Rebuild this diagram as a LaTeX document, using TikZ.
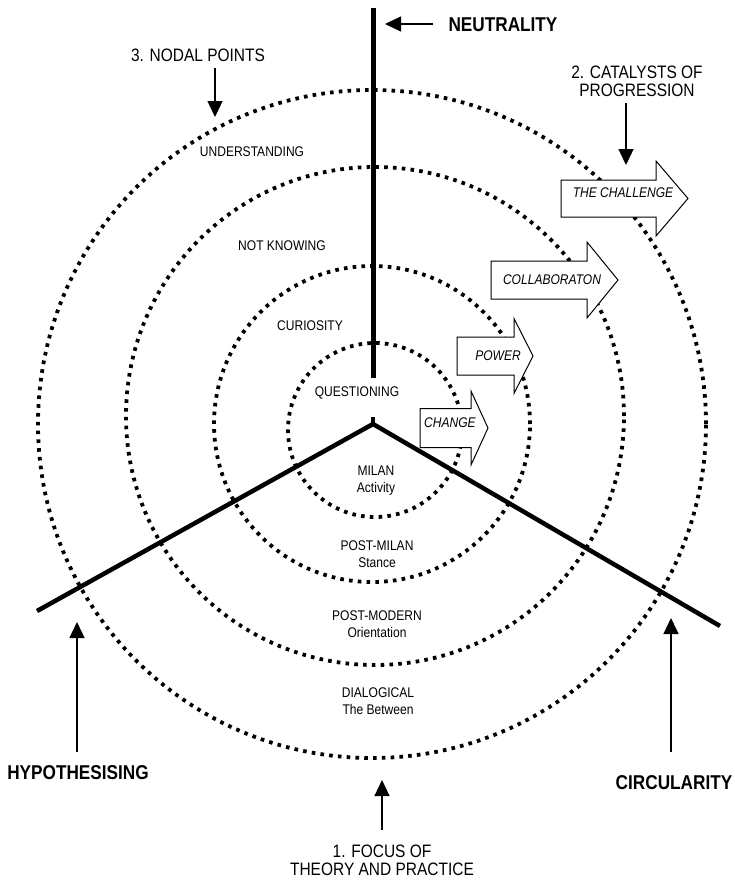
\documentclass[tikz,border=0pt]{standalone}
\usepackage{fontspec}
\setmainfont{Liberation Sans}[FakeStretch=0.86]
\usetikzlibrary{arrows.meta}
\tikzset{
    ring/.style={line width=3.8bp, dash pattern=on 3.6bp off 5.2bp},
    bar/.style={line width=5bp},
    pointer/.style={line width=1.3bp, -{Triangle[length=16bp,width=15bp]}},
    block/.style={line width=1bp, fill=white, line join=miter},
    ringtext/.style={font=\fontsize{14bp}{17bp}\selectfont, align=center, inner sep=0pt},
    blocktext/.style={font=\fontsize{14bp}{17bp}\selectfont\itshape, inner sep=0pt},
    headtext/.style={font=\fontsize{18bp}{18bp}\selectfont, align=center, inner sep=0pt},
    keytext/.style={font=\fontsize{20bp}{22bp}\selectfont\bfseries, inner sep=0pt},
}
% block arrow: left, shaft end, tip, middle, half shaft, half head
\newcommand{\blockarrow}[6]{%
    \draw[block] (#1,#4-#5) -- (#2,#4-#5) -- (#2,#4-#6) -- (#3,#4)
        -- (#2,#4+#6) -- (#2,#4+#5) -- (#1,#4+#5) -- cycle;
}

\begin{document}
\begin{tikzpicture}[x=1bp, y=-1bp]
    \useasboundingbox (0,0) rectangle (735,882);
    %dotted rings
    \draw[ring] (372,424) circle[radius=334bp];
    \draw[ring] (375,416) circle[radius=249bp];
    \draw[ring] (372,424) circle[radius=158bp];
    \draw[ring] (375,430) circle[radius=87bp];
    %thick lines
    \coordinate (apex) at (373,424);
    \draw[bar] (373,8) -- (373,378);
    \draw[line width=4bp] (373,417) -- (apex);
    \draw[line width=4.5bp] (37,611) -- (apex) -- (720,626);
    %block arrows
    \blockarrow{420}{471}{488}{428}{19.5}{37}
    \blockarrow{457}{514}{533}{356}{19}{37.5}
    \blockarrow{491}{587}{618}{280}{19}{38}
    \blockarrow{561}{656}{688}{198.5}{18.5}{37.5}
    \node[blocktext] (change) at (450,423) {CHANGE};
    \node[blocktext] (power) at (498,356) {POWER};
    \node[blocktext] (collab) at (552,280) {COLLABORATON};
    \node[blocktext] (challenge) at (623,193) {THE CHALLENGE};
    %ring labels
    \node[ringtext] (understanding) at (252,152) {UNDERSTANDING};
    \node[ringtext] (notknowing) at (282,246) {NOT KNOWING};
    \node[ringtext] (curiosity) at (310,326) {CURIOSITY};
    \node[ringtext] (questioning) at (357,393) {QUESTIONING};
    \node[ringtext, anchor=north] (milan) at (376,466) {MILAN\\Activity};
    \node[ringtext, anchor=north] (postmilan) at (377,541) {POST-MILAN\\Stance};
    \node[ringtext, anchor=north] (postmodern) at (377,611) {POST-MODERN\\Orientation};
    \node[ringtext, anchor=north] (dialogical) at (378,688) {DIALOGICAL\\The Between};
    %outer labels and pointers
    \node[keytext] (neutral) at (503,25) {NEUTRALITY};
    \coordinate (neutraltip) at (385,24);
    \draw[pointer, shorten <=15bp] (neutral.west |- neutraltip) -- (neutraltip);
    \node[headtext] (nodal) at (198,55) {3. NODAL POINTS};
    \coordinate (nodaltip) at (215,117);
    \draw[pointer, shorten <=6.5bp] (nodaltip |- nodal.south) -- (nodaltip);
    \node[headtext] (catalyst) at (637,81) {2. CATALYSTS OF\\PROGRESSION};
    \coordinate (catalysttip) at (626,165);
    \draw[pointer, shorten <=6.5bp] (catalysttip |- catalyst.south) -- (catalysttip);
    \node[keytext] (hypo) at (78,773) {HYPOTHESISING};
    \coordinate (hypotip) at (77,622);
    \draw[pointer, shorten <=14bp] (hypotip |- hypo.north) -- (hypotip);
    \node[keytext] (circ) at (674,783) {CIRCULARITY};
    \coordinate (circtip) at (671,618);
    \draw[pointer, shorten <=24bp] (circtip |- circ.north) -- (circtip);
    \node[headtext] (focus) at (382,860) {1. FOCUS OF\\THEORY AND PRACTICE};
    \coordinate (focustip) at (382,780);
    \draw[pointer, shorten <=14.5bp] (focustip |- focus.north) -- (focustip);
\end{tikzpicture}
\end{document}
